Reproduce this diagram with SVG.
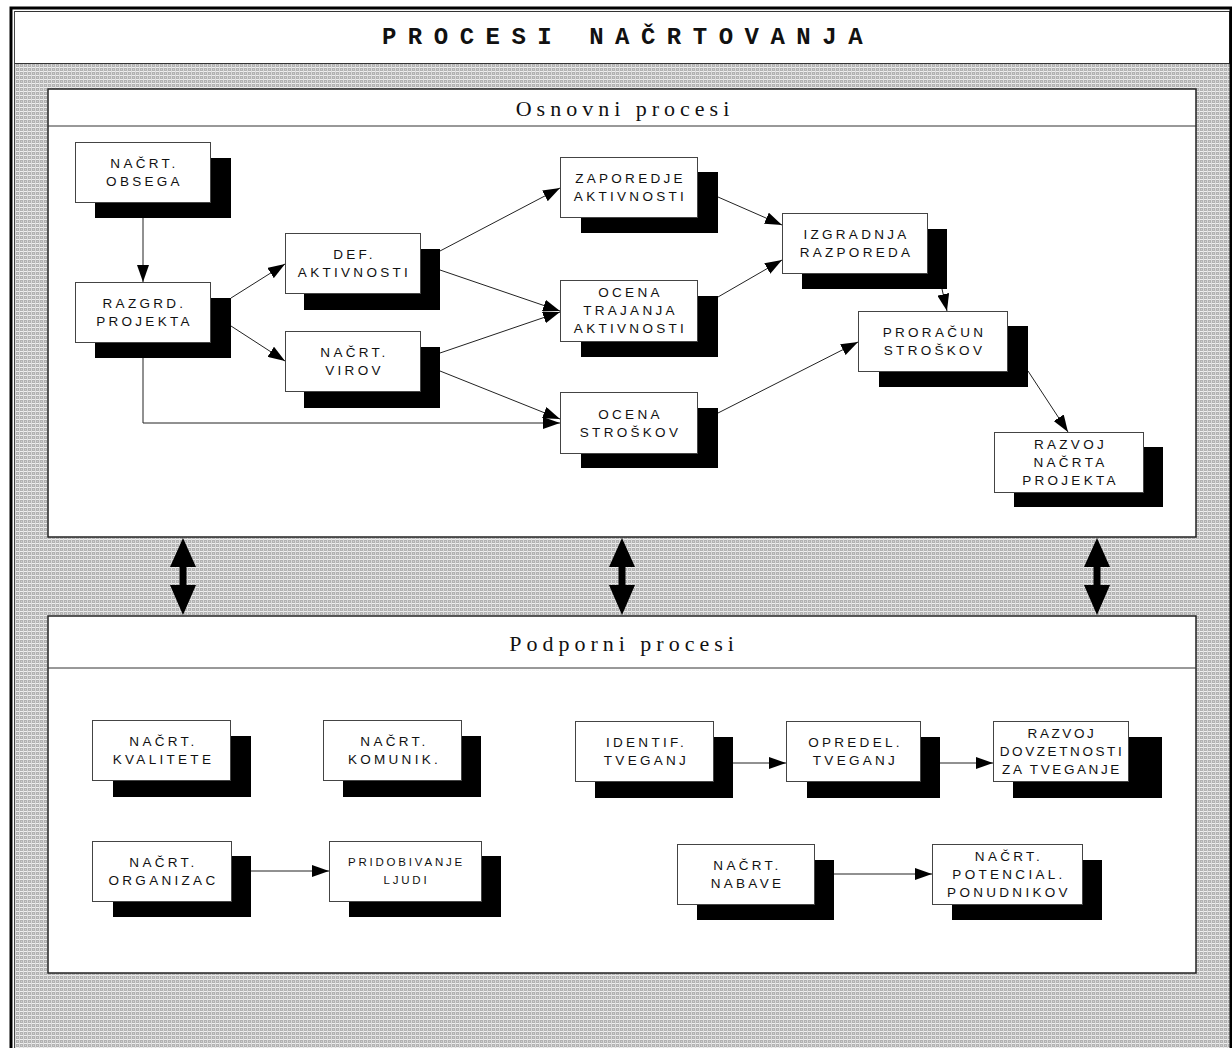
<svg xmlns="http://www.w3.org/2000/svg" width="1232" height="1048" viewBox="0 0 1232 1048">
<defs>
<pattern id="dots" width="4" height="4" patternUnits="userSpaceOnUse">
<rect width="4" height="4" fill="#b2b2b2"/>
<rect x="0" y="3" width="4" height="1" fill="#efefef"/>
<rect x="3" y="0" width="1" height="4" fill="#dadada"/>
<rect x="1" y="1" width="1" height="1" fill="#d0d0d0"/>
</pattern>
<marker id="ah" markerUnits="userSpaceOnUse" markerWidth="17" markerHeight="12" refX="17" refY="6" orient="auto">
<path d="M0,0 L17,6 L0,12 z" fill="#000"/>
</marker>
<style>
.sh{fill:#000}
.fr{fill:#fff;stroke:#444;stroke-width:1}
.t{font-family:"Liberation Sans",Arial,sans-serif;font-size:13.5px;letter-spacing:3.3px;fill:#111;text-anchor:middle}
.ts{font-size:11.5px;letter-spacing:2.8px}
.cn{fill:none;stroke:#222;stroke-width:1;marker-end:url(#ah)}
.panel{fill:#fff;stroke:#222;stroke-width:1.5}
.hd{font-family:"Liberation Serif","Times New Roman",serif;font-size:22px;letter-spacing:5px;fill:#111;text-anchor:middle}
</style>
</defs>

<g id="background">
<rect x="14" y="63" width="1216" height="990" fill="url(#dots)"/>
<rect x="14.5" y="11.5" width="1215" height="52" fill="#fff" stroke="#333" stroke-width="1"/>
<rect x="11" y="8" width="1220" height="1100" fill="none" stroke="#000" stroke-width="3"/>
<line x1="14.5" y1="11" x2="14.5" y2="1048" stroke="#444" stroke-width="1"/>
<text x="628" y="44" font-family="'Liberation Mono','Courier New',monospace" font-size="24" font-weight="bold" letter-spacing="11.5" text-anchor="middle" fill="#111">PROCESI NAČRTOVANJA</text>
</g>

<g id="osnovni-panel">
<rect class="panel" x="48" y="89" width="1148" height="448"/>
<line x1="48" y1="126" x2="1196" y2="126" stroke="#333" stroke-width="1"/>
<text class="hd" x="625" y="116">Osnovni procesi</text>
</g>

<g id="podporni-panel">
<rect class="panel" x="48" y="616" width="1148" height="357"/>
<line x1="48" y1="668" x2="1196" y2="668" stroke="#333" stroke-width="1"/>
<text class="hd" x="624" y="651">Podporni procesi</text>
</g>

<g id="double-arrows" fill="#000">
<path d="M183,538 L196,567 L186.5,567 L186.5,585 L196,585 L183,615 L170,585 L179.5,585 L179.5,567 L170,567 z"/>
<path d="M622,538 L635,567 L625.5,567 L625.5,585 L635,585 L622,615 L609,585 L618.5,585 L618.5,567 L609,567 z"/>
<path d="M1097,538 L1110,567 L1100.5,567 L1100.5,585 L1110,585 L1097,615 L1084,585 L1093.5,585 L1093.5,567 L1084,567 z"/>
</g>

<g id="connectors">
<path class="cn" d="M143,218 L143,282"/>
<path class="cn" d="M231,298 L285,264"/>
<path class="cn" d="M231,326 L285,361"/>
<path class="cn" d="M143,358 L143,423 L560,423"/>
<path class="cn" d="M440,251 L560,188"/>
<path class="cn" d="M440,270 L560,311"/>
<path class="cn" d="M440,353 L560,312"/>
<path class="cn" d="M440,371 L560,419"/>
<path class="cn" d="M718,197 L782,225"/>
<path class="cn" d="M718,297 L782,260"/>
<path class="cn" d="M718,413 L858,342"/>
<path class="cn" d="M942,289 L947,311"/>
<path class="cn" d="M1028,371 L1068,432"/>
<path class="cn" d="M733,763 L786,763"/>
<path class="cn" d="M940,763 L993,763"/>
<path class="cn" d="M251,871 L329,871"/>
<path class="cn" d="M834,874 L932,874"/>
</g>

<g id="n-obsega"><rect class="sh" x="95" y="158" width="136" height="60"/><rect class="fr" x="75.5" y="142.5" width="135" height="60"/><text class="t" x="144.5" y="168">NAČRT.</text><text class="t" x="144.5" y="186">OBSEGA</text></g>
<g id="n-razgrd"><rect class="sh" x="95" y="298" width="136" height="60"/><rect class="fr" x="75.5" y="282.5" width="135" height="60"/><text class="t" x="144.5" y="308">RAZGRD.</text><text class="t" x="144.5" y="326">PROJEKTA</text></g>
<g id="n-def"><rect class="sh" x="304" y="249" width="136" height="61"/><rect class="fr" x="285.5" y="233.5" width="135" height="60"/><text class="t" x="354.5" y="259">DEF.</text><text class="t" x="354.5" y="277">AKTIVNOSTI</text></g>
<g id="n-virov"><rect class="sh" x="304" y="347" width="136" height="61"/><rect class="fr" x="285.5" y="331.5" width="135" height="60"/><text class="t" x="354.5" y="357">NAČRT.</text><text class="t" x="354.5" y="375">VIROV</text></g>
<g id="n-zaporedje"><rect class="sh" x="581" y="172" width="137" height="61"/><rect class="fr" x="560.5" y="157.5" width="137" height="60"/><text class="t" x="630.5" y="183">ZAPOREDJE</text><text class="t" x="630.5" y="201">AKTIVNOSTI</text></g>
<g id="n-trajanja"><rect class="sh" x="581" y="296" width="137" height="61"/><rect class="fr" x="560.5" y="280.5" width="137" height="61"/><text class="t" x="630.5" y="297">OCENA</text><text class="t" x="630.5" y="315">TRAJANJA</text><text class="t" x="630.5" y="333">AKTIVNOSTI</text></g>
<g id="n-ocena-stroskov"><rect class="sh" x="581" y="408" width="137" height="60"/><rect class="fr" x="560.5" y="392.5" width="137" height="61"/><text class="t" x="630.5" y="419">OCENA</text><text class="t" x="630.5" y="437">STROŠKOV</text></g>
<g id="n-izgradnja"><rect class="sh" x="802" y="229" width="145" height="60"/><rect class="fr" x="782.5" y="213.5" width="145" height="60"/><text class="t" x="856.5" y="239">IZGRADNJA</text><text class="t" x="856.5" y="257">RAZPOREDA</text></g>
<g id="n-proracun"><rect class="sh" x="879" y="326" width="149" height="61"/><rect class="fr" x="858.5" y="311.5" width="149" height="60"/><text class="t" x="934.5" y="337">PRORAČUN</text><text class="t" x="934.5" y="355">STROŠKOV</text></g>
<g id="n-razvoj-nacrta"><rect class="sh" x="1014" y="447" width="149" height="60"/><rect class="fr" x="994.5" y="432.5" width="149" height="60"/><text class="t" x="1070.5" y="449">RAZVOJ</text><text class="t" x="1070.5" y="467">NAČRTA</text><text class="t" x="1070.5" y="485">PROJEKTA</text></g>

<g id="n-kvalitete"><rect class="sh" x="113" y="736" width="138" height="61"/><rect class="fr" x="92.5" y="720.5" width="138" height="60"/><text class="t" x="163.5" y="746">NAČRT.</text><text class="t" x="163.5" y="764">KVALITETE</text></g>
<g id="n-komunik"><rect class="sh" x="343" y="736" width="138" height="61"/><rect class="fr" x="323.5" y="720.5" width="138" height="60"/><text class="t" x="394.5" y="746">NAČRT.</text><text class="t" x="394.5" y="764">KOMUNIK.</text></g>
<g id="n-identif"><rect class="sh" x="595" y="737" width="138" height="61"/><rect class="fr" x="575.5" y="721.5" width="138" height="60"/><text class="t" x="646.5" y="747">IDENTIF.</text><text class="t" x="646.5" y="765">TVEGANJ</text></g>
<g id="n-opredel"><rect class="sh" x="807" y="737" width="133" height="61"/><rect class="fr" x="786.5" y="721.5" width="134" height="60"/><text class="t" x="855.5" y="747">OPREDEL.</text><text class="t" x="855.5" y="765">TVEGANJ</text></g>
<g id="n-dovzetnost"><rect class="sh" x="1013" y="737" width="149" height="61"/><rect class="fr" x="993.5" y="721.5" width="135" height="60"/><text class="t" x="1062" y="738" style="letter-spacing:2.6px">RAZVOJ</text><text class="t" x="1062" y="756" style="letter-spacing:2.6px">DOVZETNOSTI</text><text class="t" x="1062" y="774" style="letter-spacing:2.6px">ZA TVEGANJE</text></g>
<g id="n-organizac"><rect class="sh" x="113" y="856" width="138" height="61"/><rect class="fr" x="92.5" y="841.5" width="139" height="60"/><text class="t" x="163.5" y="867">NAČRT.</text><text class="t" x="163.5" y="885">ORGANIZAC</text></g>
<g id="n-pridobivanje"><rect class="sh" x="349" y="856" width="152" height="61"/><rect class="fr" x="329.5" y="841.5" width="152" height="60"/><text class="t ts" x="406.5" y="866">PRIDOBIVANJE</text><text class="t ts" x="406.5" y="884">LJUDI</text></g>
<g id="n-nabave"><rect class="sh" x="697" y="860" width="137" height="60"/><rect class="fr" x="677.5" y="844.5" width="137" height="60"/><text class="t" x="747.5" y="870">NAČRT.</text><text class="t" x="747.5" y="888">NABAVE</text></g>
<g id="n-potencial"><rect class="sh" x="952" y="860" width="150" height="60"/><rect class="fr" x="932.5" y="844.5" width="150" height="60"/><text class="t" x="1009" y="861">NAČRT.</text><text class="t" x="1009" y="879">POTENCIAL.</text><text class="t" x="1009" y="897">PONUDNIKOV</text></g>
</svg>
